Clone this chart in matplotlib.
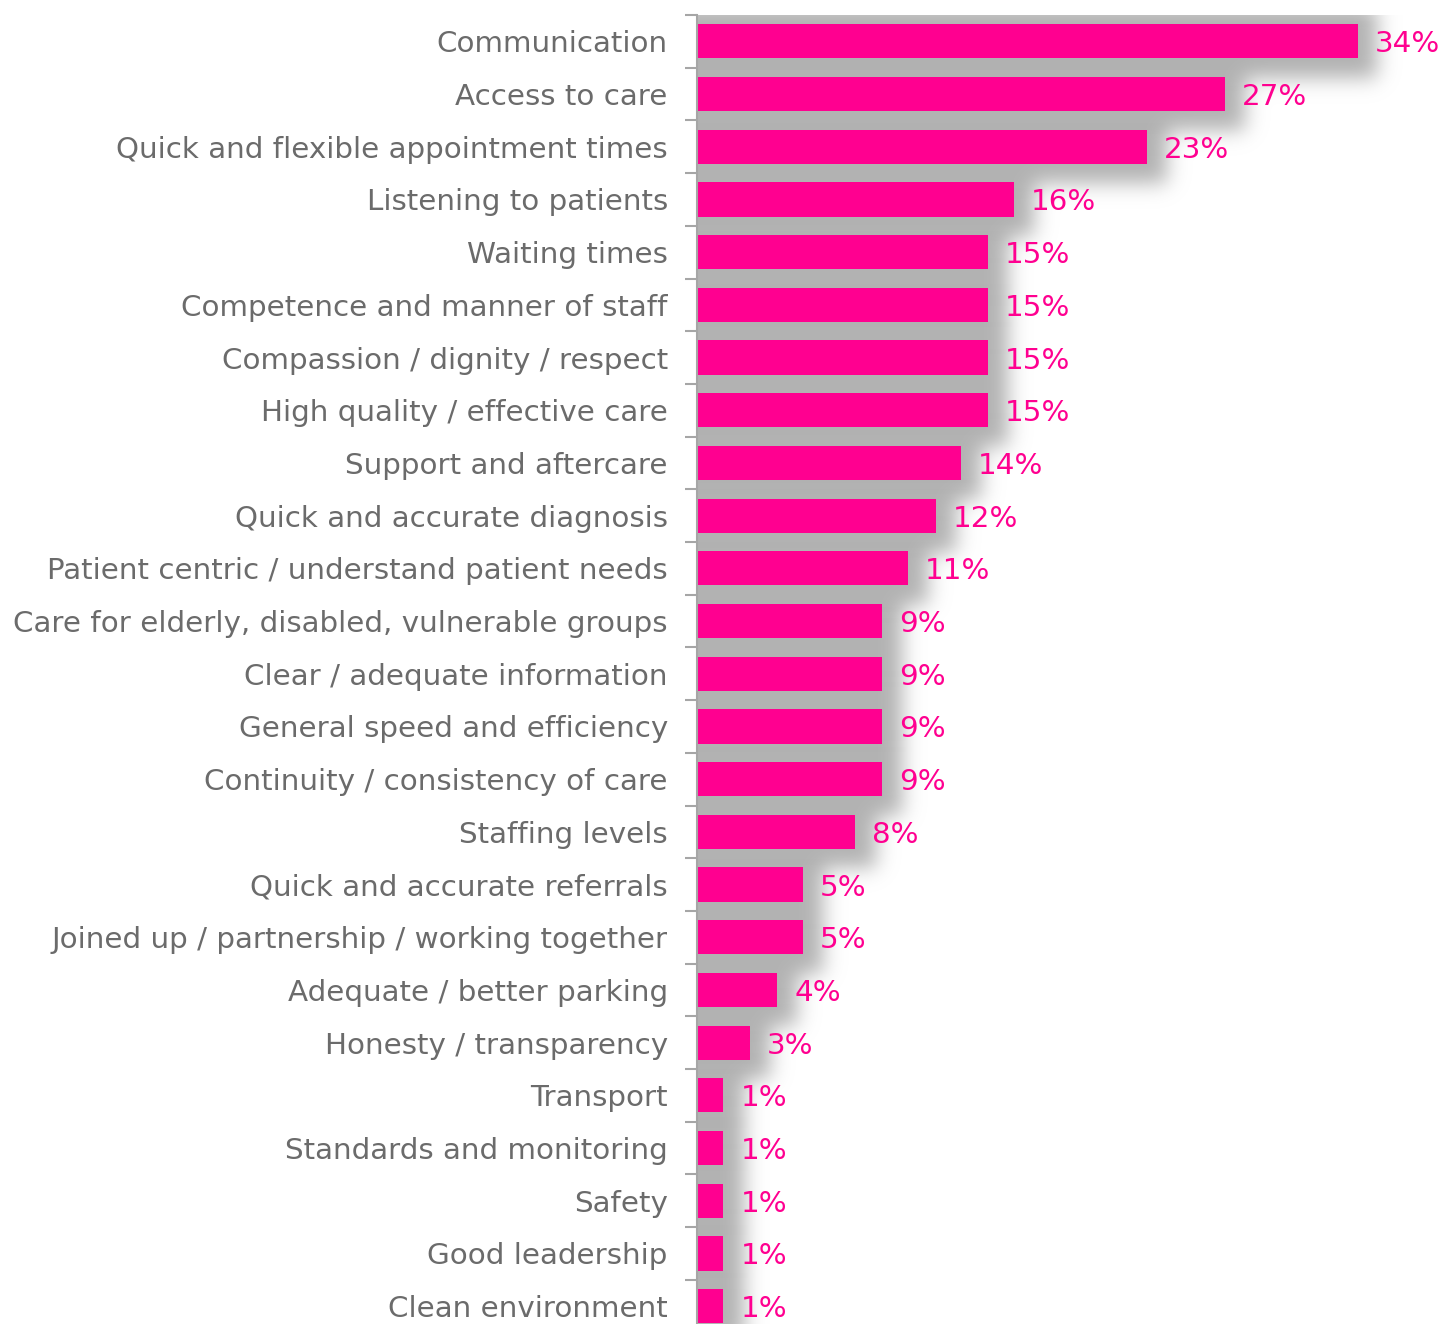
import matplotlib
matplotlib.use("Agg")
import matplotlib.pyplot as plt
import numpy as np

# categories, top to bottom
categories = [
    "Communication",
    "Access to care",
    "Quick and flexible appointment times",
    "Listening to patients",
    "Waiting times",
    "Competence and manner of staff",
    "Compassion / dignity / respect",
    "High quality / effective care",
    "Support and aftercare",
    "Quick and accurate diagnosis",
    "Patient centric / understand patient needs",
    "Care for elderly, disabled, vulnerable groups",
    "Clear / adequate information",
    "General speed and efficiency",
    "Continuity / consistency of care",
    "Staffing levels",
    "Quick and accurate referrals",
    "Joined up / partnership / working together",
    "Adequate / better parking",
    "Honesty / transparency",
    "Transport",
    "Standards and monitoring",
    "Safety",
    "Good leadership",
    "Clean environment",
]
# bar lengths (percent)
values = [33.8, 27.0, 23.0, 16.2, 14.9, 14.9, 14.9, 14.9, 13.5, 12.2, 10.8,
          9.46, 9.46, 9.46, 9.46, 8.1, 5.4, 5.4, 4.1, 2.7, 1.35, 1.35, 1.35,
          1.35, 1.35]
value_labels = ["34%", "27%", "23%", "16%", "15%", "15%", "15%", "15%", "14%",
                "12%", "11%", "9%", "9%", "9%", "9%", "8%", "5%", "5%", "4%",
                "3%", "1%", "1%", "1%", "1%", "1%"]

PINK = "#FF0090"
LABEL_GREY = "#6b6b6b"
SHADOW_GREY = np.array([178, 178, 178]) / 255.0
AXIS_GREY = "#a6a6a6"

W, H, DPI = 1444, 1324, 100
ax_left_px, ax_top_px = 697, 15
row_px = 52.7
n = len(categories)
ax_w_px = W - ax_left_px
ax_h_px = row_px * n
px_per_pct = 19.55
xmax = ax_w_px / px_per_pct

fig = plt.figure(figsize=(W / DPI, H / DPI), dpi=DPI)
ax = fig.add_axes([ax_left_px / W, (H - ax_top_px - ax_h_px) / H,
                   ax_w_px / W, ax_h_px / H])

ypos = np.arange(n)

# --- soft drop shadow behind the bars (union of padded rects, blurred) ---
pad_x = 20 / px_per_pct
pad_y = 36 / row_px
margin = 60
nx, ny = int(ax_w_px) + 2 * margin, int(ax_h_px) + 2 * margin
xs = np.linspace(-margin / px_per_pct, xmax + margin / px_per_pct, nx)
ys = np.linspace(-0.5 - margin / row_px, n - 0.5 + margin / row_px, ny)
XX, YY = np.meshgrid(xs, ys)
mask = np.zeros_like(XX)
for y, v in zip(ypos, values):
    inside = (XX <= v + pad_x) & (np.abs(YY - y) <= pad_y)
    mask[inside] = 1.0
sigma = 10.0
k = np.arange(-32, 33)
kern = np.exp(-k ** 2 / (2 * sigma ** 2))
kern /= kern.sum()
mask = np.apply_along_axis(lambda r: np.convolve(r, kern, mode="same"), 1, mask)
mask = np.apply_along_axis(lambda c: np.convolve(c, kern, mode="same"), 0, mask)
rgba = np.zeros((ny, nx, 4))
rgba[..., :3] = SHADOW_GREY
rgba[..., 3] = np.clip(mask, 0, 1)
ax.imshow(rgba, extent=(xs[0], xs[-1], ys[-1], ys[0]), aspect="auto",
          interpolation="bilinear", zorder=1)
ax.set_xlim(0, xmax)
ax.set_ylim(n - 0.5, -0.5)

ax.barh(ypos, values, height=0.65, color=PINK, zorder=2)

for y, v, lab in zip(ypos, values, value_labels):
    ax.text(v + 17 / px_per_pct, y, lab, va="center_baseline", ha="left",
            fontsize=21.2, color=PINK, zorder=3)

ax.set_yticks(ypos)
ax.set_yticklabels(categories, fontsize=21.2, color=LABEL_GREY)
ax.tick_params(axis="y", which="major", length=0, pad=21)
ax.set_yticks(np.arange(-0.5, n, 1.0), minor=True)
ax.tick_params(axis="y", which="minor", length=9, width=1.5, color=AXIS_GREY,
               direction="out")
ax.set_xticks([])

for side in ["top", "right", "bottom"]:
    ax.spines[side].set_visible(False)
ax.spines["left"].set_color(AXIS_GREY)
ax.spines["left"].set_linewidth(1.5)
ax.spines["left"].set_zorder(4)

fig.savefig("out.png", dpi=DPI)
